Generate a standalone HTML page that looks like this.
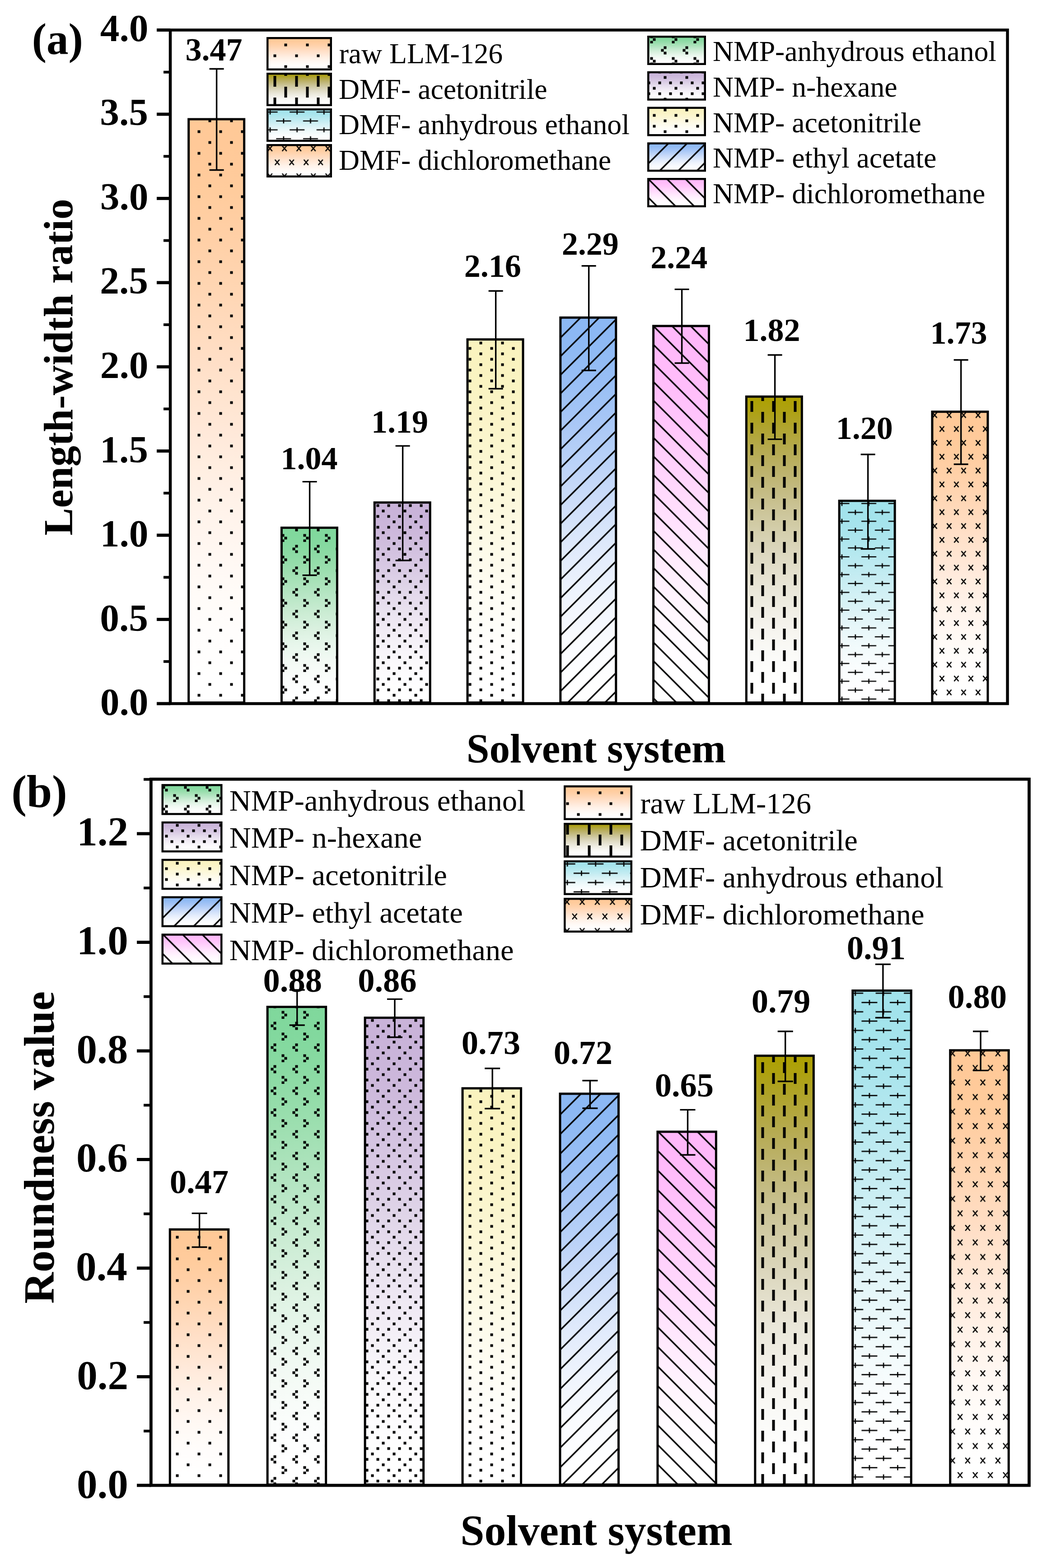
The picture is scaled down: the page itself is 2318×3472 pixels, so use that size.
<!DOCTYPE html><html><head><meta charset="utf-8"><title>Solvent system chart</title><style>html,body{margin:0;padding:0;background:#fff;}svg{display:block;}</style></head><body>
<svg width="2318" height="3472" viewBox="0 0 2318 3472">
<rect width="2318" height="3472" fill="#fff"/>
<defs><linearGradient id="g_orange" x1="0" y1="0" x2="0" y2="1"><stop offset="0.0000" stop-color="#FFC997"/><stop offset="0.0417" stop-color="#FFC998"/><stop offset="0.0833" stop-color="#FFCA9A"/><stop offset="0.1250" stop-color="#FFCC9D"/><stop offset="0.1667" stop-color="#FFCEA2"/><stop offset="0.2083" stop-color="#FFD0A7"/><stop offset="0.2500" stop-color="#FFD3AD"/><stop offset="0.2917" stop-color="#FFD6B3"/><stop offset="0.3333" stop-color="#FFD9BA"/><stop offset="0.3750" stop-color="#FFDCC0"/><stop offset="0.4167" stop-color="#FFDFC7"/><stop offset="0.4583" stop-color="#FFE3CD"/><stop offset="0.5000" stop-color="#FFE6D3"/><stop offset="0.5417" stop-color="#FFE9DA"/><stop offset="0.5833" stop-color="#FFEDDF"/><stop offset="0.6250" stop-color="#FFF0E5"/><stop offset="0.6667" stop-color="#FFF3EA"/><stop offset="0.7083" stop-color="#FFF5EE"/><stop offset="0.7500" stop-color="#FFF8F3"/><stop offset="0.7917" stop-color="#FFFAF6"/><stop offset="0.8333" stop-color="#FFFCF9"/><stop offset="0.8750" stop-color="#FFFDFC"/><stop offset="0.9167" stop-color="#FFFEFD"/><stop offset="0.9583" stop-color="#FFFFFF"/><stop offset="1.0000" stop-color="#FFFFFF"/></linearGradient><linearGradient id="g_green" x1="0" y1="0" x2="0" y2="1"><stop offset="0.0000" stop-color="#80D89C"/><stop offset="0.0417" stop-color="#81D89D"/><stop offset="0.0833" stop-color="#84D99F"/><stop offset="0.1250" stop-color="#89DAA2"/><stop offset="0.1667" stop-color="#8FDBA6"/><stop offset="0.2083" stop-color="#96DDAB"/><stop offset="0.2500" stop-color="#9DDFB0"/><stop offset="0.2917" stop-color="#A5E1B6"/><stop offset="0.3333" stop-color="#ADE3BC"/><stop offset="0.3750" stop-color="#B5E5C3"/><stop offset="0.4167" stop-color="#BDE8C9"/><stop offset="0.4583" stop-color="#C5EACF"/><stop offset="0.5000" stop-color="#CDEDD5"/><stop offset="0.5417" stop-color="#D4EFDB"/><stop offset="0.5833" stop-color="#DBF1E0"/><stop offset="0.6250" stop-color="#E1F4E6"/><stop offset="0.6667" stop-color="#E7F6EB"/><stop offset="0.7083" stop-color="#ECF8EF"/><stop offset="0.7500" stop-color="#F1F9F3"/><stop offset="0.7917" stop-color="#F5FBF6"/><stop offset="0.8333" stop-color="#F8FCF9"/><stop offset="0.8750" stop-color="#FBFDFC"/><stop offset="0.9167" stop-color="#FDFEFE"/><stop offset="0.9583" stop-color="#FFFFFF"/><stop offset="1.0000" stop-color="#FFFFFF"/></linearGradient><linearGradient id="g_purple" x1="0" y1="0" x2="0" y2="1"><stop offset="0.0000" stop-color="#C9B3D9"/><stop offset="0.0417" stop-color="#C9B3D9"/><stop offset="0.0833" stop-color="#CAB5DA"/><stop offset="0.1250" stop-color="#CCB7DB"/><stop offset="0.1667" stop-color="#CEBADC"/><stop offset="0.2083" stop-color="#D0BEDE"/><stop offset="0.2500" stop-color="#D3C2E0"/><stop offset="0.2917" stop-color="#D6C6E2"/><stop offset="0.3333" stop-color="#D9CAE4"/><stop offset="0.3750" stop-color="#DCCFE6"/><stop offset="0.4167" stop-color="#DFD4E8"/><stop offset="0.4583" stop-color="#E3D9EB"/><stop offset="0.5000" stop-color="#E6DDED"/><stop offset="0.5417" stop-color="#E9E2EF"/><stop offset="0.5833" stop-color="#EDE6F2"/><stop offset="0.6250" stop-color="#F0EAF4"/><stop offset="0.6667" stop-color="#F3EEF6"/><stop offset="0.7083" stop-color="#F5F2F8"/><stop offset="0.7500" stop-color="#F8F5FA"/><stop offset="0.7917" stop-color="#FAF8FB"/><stop offset="0.8333" stop-color="#FCFAFC"/><stop offset="0.8750" stop-color="#FDFCFE"/><stop offset="0.9167" stop-color="#FEFEFE"/><stop offset="0.9583" stop-color="#FFFFFF"/><stop offset="1.0000" stop-color="#FFFFFF"/></linearGradient><linearGradient id="g_yellow" x1="0" y1="0" x2="0" y2="1"><stop offset="0.0000" stop-color="#FAF3BF"/><stop offset="0.0417" stop-color="#FAF3BF"/><stop offset="0.0833" stop-color="#FAF3C1"/><stop offset="0.1250" stop-color="#FAF4C2"/><stop offset="0.1667" stop-color="#FAF4C5"/><stop offset="0.2083" stop-color="#FBF4C8"/><stop offset="0.2500" stop-color="#FBF5CB"/><stop offset="0.2917" stop-color="#FBF6CE"/><stop offset="0.3333" stop-color="#FBF6D2"/><stop offset="0.3750" stop-color="#FCF7D6"/><stop offset="0.4167" stop-color="#FCF8DA"/><stop offset="0.4583" stop-color="#FCF8DE"/><stop offset="0.5000" stop-color="#FDF9E2"/><stop offset="0.5417" stop-color="#FDFAE6"/><stop offset="0.5833" stop-color="#FDFBEA"/><stop offset="0.6250" stop-color="#FDFBED"/><stop offset="0.6667" stop-color="#FEFCF1"/><stop offset="0.7083" stop-color="#FEFDF4"/><stop offset="0.7500" stop-color="#FEFDF6"/><stop offset="0.7917" stop-color="#FEFEF9"/><stop offset="0.8333" stop-color="#FFFEFB"/><stop offset="0.8750" stop-color="#FFFEFD"/><stop offset="0.9167" stop-color="#FFFFFE"/><stop offset="0.9583" stop-color="#FFFFFF"/><stop offset="1.0000" stop-color="#FFFFFF"/></linearGradient><linearGradient id="g_blue" x1="0" y1="0" x2="0" y2="1"><stop offset="0.0000" stop-color="#8BB8F4"/><stop offset="0.0417" stop-color="#8CB8F4"/><stop offset="0.0833" stop-color="#8FBAF4"/><stop offset="0.1250" stop-color="#93BCF4"/><stop offset="0.1667" stop-color="#98BEF5"/><stop offset="0.2083" stop-color="#9EC2F5"/><stop offset="0.2500" stop-color="#A5C5F6"/><stop offset="0.2917" stop-color="#ACC9F6"/><stop offset="0.3333" stop-color="#B3CEF7"/><stop offset="0.3750" stop-color="#BAD2F8"/><stop offset="0.4167" stop-color="#C2D6F8"/><stop offset="0.4583" stop-color="#C9DBF9"/><stop offset="0.5000" stop-color="#D0DFFA"/><stop offset="0.5417" stop-color="#D6E4FA"/><stop offset="0.5833" stop-color="#DDE8FB"/><stop offset="0.6250" stop-color="#E3ECFC"/><stop offset="0.6667" stop-color="#E8EFFC"/><stop offset="0.7083" stop-color="#EDF3FD"/><stop offset="0.7500" stop-color="#F2F6FD"/><stop offset="0.7917" stop-color="#F5F8FE"/><stop offset="0.8333" stop-color="#F9FBFE"/><stop offset="0.8750" stop-color="#FBFCFF"/><stop offset="0.9167" stop-color="#FDFEFF"/><stop offset="0.9583" stop-color="#FFFFFF"/><stop offset="1.0000" stop-color="#FFFFFF"/></linearGradient><linearGradient id="g_pink" x1="0" y1="0" x2="0" y2="1"><stop offset="0.0000" stop-color="#FFB8FA"/><stop offset="0.0417" stop-color="#FFB8FA"/><stop offset="0.0833" stop-color="#FFBAFA"/><stop offset="0.1250" stop-color="#FFBCFA"/><stop offset="0.1667" stop-color="#FFBEFA"/><stop offset="0.2083" stop-color="#FFC2FB"/><stop offset="0.2500" stop-color="#FFC5FB"/><stop offset="0.2917" stop-color="#FFC9FB"/><stop offset="0.3333" stop-color="#FFCEFB"/><stop offset="0.3750" stop-color="#FFD2FC"/><stop offset="0.4167" stop-color="#FFD6FC"/><stop offset="0.4583" stop-color="#FFDBFC"/><stop offset="0.5000" stop-color="#FFDFFD"/><stop offset="0.5417" stop-color="#FFE4FD"/><stop offset="0.5833" stop-color="#FFE8FD"/><stop offset="0.6250" stop-color="#FFECFD"/><stop offset="0.6667" stop-color="#FFEFFE"/><stop offset="0.7083" stop-color="#FFF3FE"/><stop offset="0.7500" stop-color="#FFF6FE"/><stop offset="0.7917" stop-color="#FFF8FE"/><stop offset="0.8333" stop-color="#FFFBFF"/><stop offset="0.8750" stop-color="#FFFCFF"/><stop offset="0.9167" stop-color="#FFFEFF"/><stop offset="0.9583" stop-color="#FFFFFF"/><stop offset="1.0000" stop-color="#FFFFFF"/></linearGradient><linearGradient id="g_olive" x1="0" y1="0" x2="0" y2="1"><stop offset="0.0000" stop-color="#ADA000"/><stop offset="0.0417" stop-color="#AEA110"/><stop offset="0.0833" stop-color="#AFA326"/><stop offset="0.1250" stop-color="#B2A63A"/><stop offset="0.1667" stop-color="#B5AA4D"/><stop offset="0.2083" stop-color="#B9AE5E"/><stop offset="0.2500" stop-color="#BDB36E"/><stop offset="0.2917" stop-color="#C2B97D"/><stop offset="0.3333" stop-color="#C7BF8B"/><stop offset="0.3750" stop-color="#CCC599"/><stop offset="0.4167" stop-color="#D1CBA5"/><stop offset="0.4583" stop-color="#D6D1B1"/><stop offset="0.5000" stop-color="#DBD6BC"/><stop offset="0.5417" stop-color="#E0DCC6"/><stop offset="0.5833" stop-color="#E5E1CF"/><stop offset="0.6250" stop-color="#E9E6D8"/><stop offset="0.6667" stop-color="#EDEBDF"/><stop offset="0.7083" stop-color="#F1EFE6"/><stop offset="0.7500" stop-color="#F5F3ED"/><stop offset="0.7917" stop-color="#F8F7F2"/><stop offset="0.8333" stop-color="#FAFAF7"/><stop offset="0.8750" stop-color="#FCFCFA"/><stop offset="0.9167" stop-color="#FEFEFD"/><stop offset="0.9583" stop-color="#FFFFFE"/><stop offset="1.0000" stop-color="#FFFFFF"/></linearGradient><linearGradient id="g_cyan" x1="0" y1="0" x2="0" y2="1"><stop offset="0.0000" stop-color="#A1E3EC"/><stop offset="0.0417" stop-color="#A2E3EC"/><stop offset="0.0833" stop-color="#A4E4EC"/><stop offset="0.1250" stop-color="#A7E4ED"/><stop offset="0.1667" stop-color="#AAE5ED"/><stop offset="0.2083" stop-color="#AFE6EE"/><stop offset="0.2500" stop-color="#B4E8EF"/><stop offset="0.2917" stop-color="#BAE9F0"/><stop offset="0.3333" stop-color="#BFEBF1"/><stop offset="0.3750" stop-color="#C5ECF2"/><stop offset="0.4167" stop-color="#CBEEF3"/><stop offset="0.4583" stop-color="#D1F0F5"/><stop offset="0.5000" stop-color="#D7F2F6"/><stop offset="0.5417" stop-color="#DCF3F7"/><stop offset="0.5833" stop-color="#E2F5F8"/><stop offset="0.6250" stop-color="#E7F7F9"/><stop offset="0.6667" stop-color="#EBF8FA"/><stop offset="0.7083" stop-color="#F0FAFB"/><stop offset="0.7500" stop-color="#F3FBFC"/><stop offset="0.7917" stop-color="#F7FCFD"/><stop offset="0.8333" stop-color="#FAFDFE"/><stop offset="0.8750" stop-color="#FCFEFE"/><stop offset="0.9167" stop-color="#FEFEFF"/><stop offset="0.9583" stop-color="#FFFFFF"/><stop offset="1.0000" stop-color="#FFFFFF"/></linearGradient><pattern id="p_dots" patternUnits="userSpaceOnUse" x="0" y="0" width="48" height="48"><rect x="5.5" y="0.5" width="6" height="6"/><rect x="29.5" y="24.5" width="6" height="6"/></pattern><pattern id="p_ydots" patternUnits="userSpaceOnUse" x="0" y="0" width="48" height="24"><rect x="29.5" y="0.5" width="6" height="6"/><rect x="5.5" y="12.5" width="6" height="6"/></pattern><pattern id="p_dense" patternUnits="userSpaceOnUse" x="0" y="0" width="48" height="48"><rect x="5.5" y="0.5" width="6" height="6"/><rect x="17.5" y="12.5" width="6" height="6"/><rect x="41.5" y="12.5" width="6" height="6"/><rect x="29.5" y="24.5" width="6" height="6"/><rect x="17.5" y="36.5" width="6" height="6"/><rect x="41.5" y="36.5" width="6" height="6"/></pattern><pattern id="p_dash" patternUnits="userSpaceOnUse" x="0" y="0" width="48" height="48"><rect x="5.5" y="0" width="6" height="24"/><rect x="29.5" y="24" width="6" height="24"/></pattern><pattern id="p_chev" patternUnits="userSpaceOnUse" x="0" y="0" width="48" height="48"><rect x="47.5" y="30.5" width="6" height="6"/><rect x="-0.5" y="30.5" width="6" height="6"/><rect x="5.5" y="36.5" width="6" height="6"/><rect x="47.5" y="42.5" width="6" height="6"/><rect x="-0.5" y="42.5" width="6" height="6"/><rect x="29.5" y="6.5" width="6" height="6"/><rect x="23.5" y="12.5" width="6" height="6"/><rect x="29.5" y="18.5" width="6" height="6"/></pattern><pattern id="p_fwd" patternUnits="userSpaceOnUse" x="11" y="0" width="41.2" height="41.2"><path d="M-5,5 L5,-5 M-5,46.2 L46.2,-5 M36.2,46.2 L46.2,36.2" stroke="#000" stroke-width="3.4"/></pattern><pattern id="p_bwd" patternUnits="userSpaceOnUse" x="0" y="18" width="41.2" height="41.2"><path d="M-5,36.2 L5,46.2 M-5,-5 L46.2,46.2 M36.2,-5 L46.2,5" stroke="#000" stroke-width="3.4"/></pattern><pattern id="p_plus" patternUnits="userSpaceOnUse" x="0" y="0" width="59.6" height="39.36"><path d="M-60.10,-26.46h33M-43.60,-31.96v11M-60.10,12.90h33M-43.60,7.40v11M-60.10,52.26h33M-43.60,46.76v11M-0.50,-26.46h33M16.00,-31.96v11M-0.50,12.90h33M16.00,7.40v11M-0.50,52.26h33M16.00,46.76v11M59.10,-26.46h33M75.60,-31.96v11M59.10,12.90h33M75.60,7.40v11M59.10,52.26h33M75.60,46.76v11M-30.30,-6.78h33M-13.80,-12.28v11M-30.30,32.58h33M-13.80,27.08v11M-30.30,71.94h33M-13.80,66.44v11M29.30,-6.78h33M45.80,-12.28v11M29.30,32.58h33M45.80,27.08v11M29.30,71.94h33M45.80,66.44v11M88.90,-6.78h33M105.40,-12.28v11M88.90,32.58h33M105.40,27.08v11M88.90,71.94h33M105.40,66.44v11" stroke="#000" stroke-width="2.6" fill="none"/></pattern><pattern id="p_xmark" patternUnits="userSpaceOnUse" x="0" y="0" width="32" height="61.4"><path d="M-31.60,-38.60L-21.60,-26.60M-21.60,-38.60L-31.60,-26.60M-31.60,22.80L-21.60,34.80M-21.60,22.80L-31.60,34.80M-31.60,84.20L-21.60,96.20M-21.60,84.20L-31.60,96.20M0.40,-38.60L10.40,-26.60M10.40,-38.60L0.40,-26.60M0.40,22.80L10.40,34.80M10.40,22.80L0.40,34.80M0.40,84.20L10.40,96.20M10.40,84.20L0.40,96.20M32.40,-38.60L42.40,-26.60M42.40,-38.60L32.40,-26.60M32.40,22.80L42.40,34.80M42.40,22.80L32.40,34.80M32.40,84.20L42.40,96.20M42.40,84.20L32.40,96.20M-15.60,-7.90L-5.60,4.10M-5.60,-7.90L-15.60,4.10M-15.60,53.50L-5.60,65.50M-5.60,53.50L-15.60,65.50M-15.60,114.90L-5.60,126.90M-5.60,114.90L-15.60,126.90M16.40,-7.90L26.40,4.10M26.40,-7.90L16.40,4.10M16.40,53.50L26.40,65.50M26.40,53.50L16.40,65.50M16.40,114.90L26.40,126.90M26.40,114.90L16.40,126.90M48.40,-7.90L58.40,4.10M58.40,-7.90L48.40,4.10M48.40,53.50L58.40,65.50M58.40,53.50L48.40,65.50M48.40,114.90L58.40,126.90M58.40,114.90L48.40,126.90" stroke="#000" stroke-width="2.5" fill="none"/></pattern></defs>
<rect x="417.65" y="263.96" width="123.00" height="1291.74" fill="url(#g_orange)"/><rect x="417.65" y="263.96" width="123.00" height="1291.74" fill="url(#p_dots)"/><rect x="417.65" y="263.96" width="123.00" height="1291.74" fill="none" stroke="#000" stroke-width="5.0"/><rect x="623.43" y="1168.55" width="123.00" height="387.15" fill="url(#g_green)"/><rect x="623.43" y="1168.55" width="123.00" height="387.15" fill="url(#p_chev)"/><rect x="623.43" y="1168.55" width="123.00" height="387.15" fill="none" stroke="#000" stroke-width="5.0"/><rect x="829.21" y="1112.71" width="123.00" height="442.99" fill="url(#g_purple)"/><rect x="829.21" y="1112.71" width="123.00" height="442.99" fill="url(#p_dense)"/><rect x="829.21" y="1112.71" width="123.00" height="442.99" fill="none" stroke="#000" stroke-width="5.0"/><rect x="1034.99" y="751.62" width="123.00" height="804.08" fill="url(#g_yellow)"/><rect x="1034.99" y="751.62" width="123.00" height="804.08" fill="url(#p_ydots)"/><rect x="1034.99" y="751.62" width="123.00" height="804.08" fill="none" stroke="#000" stroke-width="5.0"/><rect x="1240.77" y="703.22" width="123.00" height="852.48" fill="url(#g_blue)"/><rect x="1240.77" y="703.22" width="123.00" height="852.48" fill="url(#o5)"/><rect x="1240.77" y="703.22" width="123.00" height="852.48" fill="none" stroke="#000" stroke-width="5.0"/><rect x="1446.55" y="721.84" width="123.00" height="833.86" fill="url(#g_pink)"/><rect x="1446.55" y="721.84" width="123.00" height="833.86" fill="url(#o6)"/><rect x="1446.55" y="721.84" width="123.00" height="833.86" fill="none" stroke="#000" stroke-width="5.0"/><rect x="1652.33" y="878.19" width="123.00" height="677.51" fill="url(#g_olive)"/><rect x="1652.33" y="878.19" width="123.00" height="677.51" fill="url(#p_dash)"/><rect x="1652.33" y="878.19" width="123.00" height="677.51" fill="none" stroke="#000" stroke-width="5.0"/><rect x="1858.11" y="1108.99" width="123.00" height="446.71" fill="url(#g_cyan)"/><rect x="1858.11" y="1108.99" width="123.00" height="446.71" fill="url(#o8)"/><rect x="1858.11" y="1108.99" width="123.00" height="446.71" fill="none" stroke="#000" stroke-width="5.0"/><rect x="2063.89" y="911.69" width="123.00" height="644.01" fill="url(#g_orange)"/><rect x="2063.89" y="911.69" width="123.00" height="644.01" fill="url(#o9)"/><rect x="2063.89" y="911.69" width="123.00" height="644.01" fill="none" stroke="#000" stroke-width="5.0"/><rect x="377" y="66.5" width="1853.5" height="1491.5" fill="none" stroke="#000" stroke-width="6.5"/><line x1="347" y1="1558.00" x2="377" y2="1558.00" stroke="#000" stroke-width="7"/><line x1="362" y1="1464.78" x2="377" y2="1464.78" stroke="#000" stroke-width="6"/><line x1="347" y1="1371.56" x2="377" y2="1371.56" stroke="#000" stroke-width="7"/><line x1="362" y1="1278.34" x2="377" y2="1278.34" stroke="#000" stroke-width="6"/><line x1="347" y1="1185.12" x2="377" y2="1185.12" stroke="#000" stroke-width="7"/><line x1="362" y1="1091.91" x2="377" y2="1091.91" stroke="#000" stroke-width="6"/><line x1="347" y1="998.69" x2="377" y2="998.69" stroke="#000" stroke-width="7"/><line x1="362" y1="905.47" x2="377" y2="905.47" stroke="#000" stroke-width="6"/><line x1="347" y1="812.25" x2="377" y2="812.25" stroke="#000" stroke-width="7"/><line x1="362" y1="719.03" x2="377" y2="719.03" stroke="#000" stroke-width="6"/><line x1="347" y1="625.81" x2="377" y2="625.81" stroke="#000" stroke-width="7"/><line x1="362" y1="532.59" x2="377" y2="532.59" stroke="#000" stroke-width="6"/><line x1="347" y1="439.38" x2="377" y2="439.38" stroke="#000" stroke-width="7"/><line x1="362" y1="346.16" x2="377" y2="346.16" stroke="#000" stroke-width="6"/><line x1="347" y1="252.94" x2="377" y2="252.94" stroke="#000" stroke-width="7"/><line x1="362" y1="159.72" x2="377" y2="159.72" stroke="#000" stroke-width="6"/><line x1="347" y1="66.50" x2="377" y2="66.50" stroke="#000" stroke-width="7"/><path d="M479.60,152.5V376.5M463.60,152.5H495.60M463.60,376.5H495.60" stroke="#000" stroke-width="3.4" fill="none"/><path d="M685.60,1066.6V1273.8M669.60,1066.6H701.60M669.60,1273.8H701.60" stroke="#000" stroke-width="3.4" fill="none"/><path d="M891.60,987.4V1241M875.60,987.4H907.60M875.60,1241H907.60" stroke="#000" stroke-width="3.4" fill="none"/><path d="M1097.60,644.3V860.7M1081.60,644.3H1113.60M1081.60,860.7H1113.60" stroke="#000" stroke-width="3.4" fill="none"/><path d="M1303.60,588.8V820.3M1287.60,588.8H1319.60M1287.60,820.3H1319.60" stroke="#000" stroke-width="3.4" fill="none"/><path d="M1509.60,640.6V804M1493.60,640.6H1525.60M1493.60,804H1525.60" stroke="#000" stroke-width="3.4" fill="none"/><path d="M1715.60,786V972.6M1699.60,786H1731.60M1699.60,972.6H1731.60" stroke="#000" stroke-width="3.4" fill="none"/><path d="M1921.60,1006.2V1215.5M1905.60,1006.2H1937.60M1905.60,1215.5H1937.60" stroke="#000" stroke-width="3.4" fill="none"/><path d="M2127.60,797V1028M2111.60,797H2143.60M2111.60,1028H2143.60" stroke="#000" stroke-width="3.4" fill="none"/><text x="221.79" y="1583.32" style="font-family:&quot;Liberation Serif&quot;, serif;font-size:85.3px;font-weight:bold">0.0</text><text x="221.36" y="1396.72" style="font-family:&quot;Liberation Serif&quot;, serif;font-size:85.3px;font-weight:bold">0.5</text><text x="221.79" y="1210.12" style="font-family:&quot;Liberation Serif&quot;, serif;font-size:85.3px;font-weight:bold">1.0</text><text x="221.36" y="1023.52" style="font-family:&quot;Liberation Serif&quot;, serif;font-size:85.3px;font-weight:bold">1.5</text><text x="221.79" y="836.92" style="font-family:&quot;Liberation Serif&quot;, serif;font-size:85.3px;font-weight:bold">2.0</text><text x="221.36" y="650.32" style="font-family:&quot;Liberation Serif&quot;, serif;font-size:85.3px;font-weight:bold">2.5</text><text x="221.79" y="463.72" style="font-family:&quot;Liberation Serif&quot;, serif;font-size:85.3px;font-weight:bold">3.0</text><text x="221.36" y="277.12" style="font-family:&quot;Liberation Serif&quot;, serif;font-size:85.3px;font-weight:bold">3.5</text><text x="221.79" y="90.52" style="font-family:&quot;Liberation Serif&quot;, serif;font-size:85.3px;font-weight:bold">4.0</text><text x="410.46" y="134.22" style="font-family:&quot;Liberation Serif&quot;, serif;font-size:72px;font-weight:bold">3.47</text><text x="621.44" y="1038.92" style="font-family:&quot;Liberation Serif&quot;, serif;font-size:72px;font-weight:bold">1.04</text><text x="821.88" y="957.72" style="font-family:&quot;Liberation Serif&quot;, serif;font-size:72px;font-weight:bold">1.19</text><text x="1027.79" y="612.92" style="font-family:&quot;Liberation Serif&quot;, serif;font-size:72px;font-weight:bold">2.16</text><text x="1243.87" y="563.62" style="font-family:&quot;Liberation Serif&quot;, serif;font-size:72px;font-weight:bold">2.29</text><text x="1440.13" y="594.32" style="font-family:&quot;Liberation Serif&quot;, serif;font-size:72px;font-weight:bold">2.24</text><text x="1645.44" y="754.82" style="font-family:&quot;Liberation Serif&quot;, serif;font-size:72px;font-weight:bold">1.82</text><text x="1850.66" y="971.52" style="font-family:&quot;Liberation Serif&quot;, serif;font-size:72px;font-weight:bold">1.20</text><text x="2059.53" y="760.82" style="font-family:&quot;Liberation Serif&quot;, serif;font-size:72px;font-weight:bold">1.73</text>
<rect x="592.25" y="84.25" width="140.50" height="69.50" fill="url(#g_orange)"/><rect x="592.25" y="84.25" width="140.50" height="69.50" fill="url(#p_dots)"/><rect x="592.25" y="84.25" width="140.50" height="69.50" fill="none" stroke="#000" stroke-width="4.5"/><text x="750.63" y="140.30" style="font-family:&quot;Liberation Serif&quot;, serif;font-size:63.7px;font-weight:normal">raw LLM-126</text><rect x="592.25" y="163.25" width="140.50" height="69.50" fill="url(#g_olive)"/><rect x="592.25" y="163.25" width="140.50" height="69.50" fill="url(#p_dash)"/><rect x="592.25" y="163.25" width="140.50" height="69.50" fill="none" stroke="#000" stroke-width="4.5"/><text x="749.99" y="218.70" style="font-family:&quot;Liberation Serif&quot;, serif;font-size:63.7px;font-weight:normal">DMF- acetonitrile</text><rect x="592.25" y="242.25" width="140.50" height="69.50" fill="url(#g_cyan)"/><rect x="592.25" y="242.25" width="140.50" height="69.50" fill="url(#o12)"/><rect x="592.25" y="242.25" width="140.50" height="69.50" fill="none" stroke="#000" stroke-width="4.5"/><text x="749.99" y="297.10" style="font-family:&quot;Liberation Serif&quot;, serif;font-size:63.7px;font-weight:normal">DMF- anhydrous ethanol</text><rect x="592.25" y="321.25" width="140.50" height="69.50" fill="url(#g_orange)"/><rect x="592.25" y="321.25" width="140.50" height="69.50" fill="url(#o13)"/><rect x="592.25" y="321.25" width="140.50" height="69.50" fill="none" stroke="#000" stroke-width="4.5"/><text x="749.99" y="375.50" style="font-family:&quot;Liberation Serif&quot;, serif;font-size:63.7px;font-weight:normal">DMF- dichloromethane</text>
<rect x="1435.25" y="81.25" width="125.50" height="60.50" fill="url(#g_green)"/><rect x="1435.25" y="81.25" width="125.50" height="60.50" fill="url(#p_chev)"/><rect x="1435.25" y="81.25" width="125.50" height="60.50" fill="none" stroke="#000" stroke-width="4.5"/><text x="1578.09" y="135.00" style="font-family:&quot;Liberation Serif&quot;, serif;font-size:63.7px;font-weight:normal">NMP-anhydrous ethanol</text><rect x="1435.25" y="160.00" width="125.50" height="60.50" fill="url(#g_purple)"/><rect x="1435.25" y="160.00" width="125.50" height="60.50" fill="url(#p_dense)"/><rect x="1435.25" y="160.00" width="125.50" height="60.50" fill="none" stroke="#000" stroke-width="4.5"/><text x="1578.09" y="213.75" style="font-family:&quot;Liberation Serif&quot;, serif;font-size:63.7px;font-weight:normal">NMP- n-hexane</text><rect x="1435.25" y="238.75" width="125.50" height="60.50" fill="url(#g_yellow)"/><rect x="1435.25" y="238.75" width="125.50" height="60.50" fill="url(#p_ydots)"/><rect x="1435.25" y="238.75" width="125.50" height="60.50" fill="none" stroke="#000" stroke-width="4.5"/><text x="1578.09" y="292.50" style="font-family:&quot;Liberation Serif&quot;, serif;font-size:63.7px;font-weight:normal">NMP- acetonitrile</text><rect x="1435.25" y="317.50" width="125.50" height="60.50" fill="url(#g_blue)"/><rect x="1435.25" y="317.50" width="125.50" height="60.50" fill="url(#o17)"/><rect x="1435.25" y="317.50" width="125.50" height="60.50" fill="none" stroke="#000" stroke-width="4.5"/><text x="1578.09" y="371.25" style="font-family:&quot;Liberation Serif&quot;, serif;font-size:63.7px;font-weight:normal">NMP- ethyl acetate</text><rect x="1435.25" y="396.25" width="125.50" height="60.50" fill="url(#g_pink)"/><rect x="1435.25" y="396.25" width="125.50" height="60.50" fill="url(#o18)"/><rect x="1435.25" y="396.25" width="125.50" height="60.50" fill="none" stroke="#000" stroke-width="4.5"/><text x="1578.09" y="450.00" style="font-family:&quot;Liberation Serif&quot;, serif;font-size:63.7px;font-weight:normal">NMP- dichloromethane</text>
<rect x="376.23" y="2722.36" width="129.50" height="564.94" fill="url(#g_orange)"/><rect x="376.23" y="2722.36" width="129.50" height="564.94" fill="url(#p_dots)"/><rect x="376.23" y="2722.36" width="129.50" height="564.94" fill="none" stroke="#000" stroke-width="5.0"/><rect x="592.16" y="2229.54" width="129.50" height="1057.76" fill="url(#g_green)"/><rect x="592.16" y="2229.54" width="129.50" height="1057.76" fill="url(#p_chev)"/><rect x="592.16" y="2229.54" width="129.50" height="1057.76" fill="none" stroke="#000" stroke-width="5.0"/><rect x="808.09" y="2253.58" width="129.50" height="1033.72" fill="url(#g_purple)"/><rect x="808.09" y="2253.58" width="129.50" height="1033.72" fill="url(#p_dense)"/><rect x="808.09" y="2253.58" width="129.50" height="1033.72" fill="none" stroke="#000" stroke-width="5.0"/><rect x="1024.02" y="2409.84" width="129.50" height="877.46" fill="url(#g_yellow)"/><rect x="1024.02" y="2409.84" width="129.50" height="877.46" fill="url(#p_ydots)"/><rect x="1024.02" y="2409.84" width="129.50" height="877.46" fill="none" stroke="#000" stroke-width="5.0"/><rect x="1239.95" y="2421.86" width="129.50" height="865.44" fill="url(#g_blue)"/><rect x="1239.95" y="2421.86" width="129.50" height="865.44" fill="url(#o23)"/><rect x="1239.95" y="2421.86" width="129.50" height="865.44" fill="none" stroke="#000" stroke-width="5.0"/><rect x="1455.88" y="2506.00" width="129.50" height="781.30" fill="url(#g_pink)"/><rect x="1455.88" y="2506.00" width="129.50" height="781.30" fill="url(#o24)"/><rect x="1455.88" y="2506.00" width="129.50" height="781.30" fill="none" stroke="#000" stroke-width="5.0"/><rect x="1671.81" y="2337.72" width="129.50" height="949.58" fill="url(#g_olive)"/><rect x="1671.81" y="2337.72" width="129.50" height="949.58" fill="url(#p_dash)"/><rect x="1671.81" y="2337.72" width="129.50" height="949.58" fill="none" stroke="#000" stroke-width="5.0"/><rect x="1887.74" y="2193.48" width="129.50" height="1093.82" fill="url(#g_cyan)"/><rect x="1887.74" y="2193.48" width="129.50" height="1093.82" fill="url(#o26)"/><rect x="1887.74" y="2193.48" width="129.50" height="1093.82" fill="none" stroke="#000" stroke-width="5.0"/><rect x="2103.67" y="2325.70" width="129.50" height="961.60" fill="url(#g_orange)"/><rect x="2103.67" y="2325.70" width="129.50" height="961.60" fill="url(#o27)"/><rect x="2103.67" y="2325.70" width="129.50" height="961.60" fill="none" stroke="#000" stroke-width="5.0"/><rect x="334.3" y="1725.3" width="1944.1000000000001" height="1563.7" fill="none" stroke="#000" stroke-width="6.8"/><line x1="303" y1="3289.00" x2="334.3" y2="3289.00" stroke="#000" stroke-width="7"/><line x1="318" y1="3168.75" x2="334.3" y2="3168.75" stroke="#000" stroke-width="6"/><line x1="303" y1="3048.50" x2="334.3" y2="3048.50" stroke="#000" stroke-width="7"/><line x1="318" y1="2928.25" x2="334.3" y2="2928.25" stroke="#000" stroke-width="6"/><line x1="303" y1="2808.00" x2="334.3" y2="2808.00" stroke="#000" stroke-width="7"/><line x1="318" y1="2687.75" x2="334.3" y2="2687.75" stroke="#000" stroke-width="6"/><line x1="303" y1="2567.50" x2="334.3" y2="2567.50" stroke="#000" stroke-width="7"/><line x1="318" y1="2447.25" x2="334.3" y2="2447.25" stroke="#000" stroke-width="6"/><line x1="303" y1="2327.00" x2="334.3" y2="2327.00" stroke="#000" stroke-width="7"/><line x1="318" y1="2206.75" x2="334.3" y2="2206.75" stroke="#000" stroke-width="6"/><line x1="303" y1="2086.50" x2="334.3" y2="2086.50" stroke="#000" stroke-width="7"/><line x1="318" y1="1966.25" x2="334.3" y2="1966.25" stroke="#000" stroke-width="6"/><line x1="303" y1="1846.00" x2="334.3" y2="1846.00" stroke="#000" stroke-width="7"/><line x1="318" y1="1725.75" x2="334.3" y2="1725.75" stroke="#000" stroke-width="6"/><path d="M441.60,2686.6V2761.5M424.60,2686.6H458.60M424.60,2761.5H458.60" stroke="#000" stroke-width="3.4" fill="none"/><path d="M657.78,2192V2270M640.78,2192H674.78M640.78,2270H674.78" stroke="#000" stroke-width="3.4" fill="none"/><path d="M873.96,2212.4V2296.7M856.96,2212.4H890.96M856.96,2296.7H890.96" stroke="#000" stroke-width="3.4" fill="none"/><path d="M1090.14,2365.8V2454.8M1073.14,2365.8H1107.14M1073.14,2454.8H1107.14" stroke="#000" stroke-width="3.4" fill="none"/><path d="M1306.32,2392.7V2454M1289.32,2392.7H1323.32M1289.32,2454H1323.32" stroke="#000" stroke-width="3.4" fill="none"/><path d="M1522.50,2457.4V2557.2M1505.50,2457.4H1539.50M1505.50,2557.2H1539.50" stroke="#000" stroke-width="3.4" fill="none"/><path d="M1738.68,2283.8V2394.5M1721.68,2283.8H1755.68M1721.68,2394.5H1755.68" stroke="#000" stroke-width="3.4" fill="none"/><path d="M1954.86,2135.3V2253.5M1937.86,2135.3H1971.86M1937.86,2253.5H1971.86" stroke="#000" stroke-width="3.4" fill="none"/><path d="M2171.04,2283.8V2370.4M2154.04,2283.8H2188.04M2154.04,2370.4H2188.04" stroke="#000" stroke-width="3.4" fill="none"/><text x="169.89" y="3316.64" style="font-family:&quot;Liberation Serif&quot;, serif;font-size:91px;font-weight:bold">0.0</text><text x="170.35" y="3075.90" style="font-family:&quot;Liberation Serif&quot;, serif;font-size:91px;font-weight:bold">0.2</text><text x="168.07" y="2835.16" style="font-family:&quot;Liberation Serif&quot;, serif;font-size:91px;font-weight:bold">0.4</text><text x="168.98" y="2594.41" style="font-family:&quot;Liberation Serif&quot;, serif;font-size:91px;font-weight:bold">0.6</text><text x="169.44" y="2353.68" style="font-family:&quot;Liberation Serif&quot;, serif;font-size:91px;font-weight:bold">0.8</text><text x="169.89" y="2112.94" style="font-family:&quot;Liberation Serif&quot;, serif;font-size:91px;font-weight:bold">1.0</text><text x="170.34" y="1872.19" style="font-family:&quot;Liberation Serif&quot;, serif;font-size:91px;font-weight:bold">1.2</text><text x="375.65" y="2641.68" style="font-family:&quot;Liberation Serif&quot;, serif;font-size:74.5px;font-weight:bold">0.47</text><text x="582.53" y="2195.58" style="font-family:&quot;Liberation Serif&quot;, serif;font-size:74.5px;font-weight:bold">0.88</text><text x="792.24" y="2195.58" style="font-family:&quot;Liberation Serif&quot;, serif;font-size:74.5px;font-weight:bold">0.86</text><text x="1021.63" y="2334.28" style="font-family:&quot;Liberation Serif&quot;, serif;font-size:74.5px;font-weight:bold">0.73</text><text x="1225.65" y="2355.98" style="font-family:&quot;Liberation Serif&quot;, serif;font-size:74.5px;font-weight:bold">0.72</text><text x="1449.63" y="2428.38" style="font-family:&quot;Liberation Serif&quot;, serif;font-size:74.5px;font-weight:bold">0.65</text><text x="1663.78" y="2241.88" style="font-family:&quot;Liberation Serif&quot;, serif;font-size:74.5px;font-weight:bold">0.79</text><text x="1874.74" y="2123.88" style="font-family:&quot;Liberation Serif&quot;, serif;font-size:74.5px;font-weight:bold">0.91</text><text x="2098.61" y="2231.68" style="font-family:&quot;Liberation Serif&quot;, serif;font-size:74.5px;font-weight:bold">0.80</text>
<rect x="359.75" y="1738.35" width="130.50" height="64.10" fill="url(#g_green)"/><rect x="359.75" y="1738.35" width="130.50" height="64.10" fill="url(#p_chev)"/><rect x="359.75" y="1738.35" width="130.50" height="64.10" fill="none" stroke="#000" stroke-width="4.5"/><text x="507.70" y="1794.60" style="font-family:&quot;Liberation Serif&quot;, serif;font-size:66.5px;font-weight:normal">NMP-anhydrous ethanol</text><rect x="359.75" y="1821.15" width="130.50" height="64.10" fill="url(#g_purple)"/><rect x="359.75" y="1821.15" width="130.50" height="64.10" fill="url(#p_dense)"/><rect x="359.75" y="1821.15" width="130.50" height="64.10" fill="none" stroke="#000" stroke-width="4.5"/><text x="507.70" y="1877.40" style="font-family:&quot;Liberation Serif&quot;, serif;font-size:66.5px;font-weight:normal">NMP- n-hexane</text><rect x="359.75" y="1903.95" width="130.50" height="64.10" fill="url(#g_yellow)"/><rect x="359.75" y="1903.95" width="130.50" height="64.10" fill="url(#p_ydots)"/><rect x="359.75" y="1903.95" width="130.50" height="64.10" fill="none" stroke="#000" stroke-width="4.5"/><text x="507.70" y="1960.20" style="font-family:&quot;Liberation Serif&quot;, serif;font-size:66.5px;font-weight:normal">NMP- acetonitrile</text><rect x="359.75" y="1986.75" width="130.50" height="64.10" fill="url(#g_blue)"/><rect x="359.75" y="1986.75" width="130.50" height="64.10" fill="url(#o31)"/><rect x="359.75" y="1986.75" width="130.50" height="64.10" fill="none" stroke="#000" stroke-width="4.5"/><text x="507.70" y="2043.00" style="font-family:&quot;Liberation Serif&quot;, serif;font-size:66.5px;font-weight:normal">NMP- ethyl acetate</text><rect x="359.75" y="2069.55" width="130.50" height="64.10" fill="url(#g_pink)"/><rect x="359.75" y="2069.55" width="130.50" height="64.10" fill="url(#o32)"/><rect x="359.75" y="2069.55" width="130.50" height="64.10" fill="none" stroke="#000" stroke-width="4.5"/><text x="507.70" y="2125.80" style="font-family:&quot;Liberation Serif&quot;, serif;font-size:66.5px;font-weight:normal">NMP- dichloromethane</text>
<rect x="1250.25" y="1741.25" width="147.50" height="72.50" fill="url(#g_orange)"/><rect x="1250.25" y="1741.25" width="147.50" height="72.50" fill="url(#p_dots)"/><rect x="1250.25" y="1741.25" width="147.50" height="72.50" fill="none" stroke="#000" stroke-width="4.5"/><text x="1417.42" y="1800.80" style="font-family:&quot;Liberation Serif&quot;, serif;font-size:66.5px;font-weight:normal">raw LLM-126</text><rect x="1250.25" y="1824.25" width="147.50" height="72.50" fill="url(#g_olive)"/><rect x="1250.25" y="1824.25" width="147.50" height="72.50" fill="url(#p_dash)"/><rect x="1250.25" y="1824.25" width="147.50" height="72.50" fill="none" stroke="#000" stroke-width="4.5"/><text x="1416.76" y="1883.00" style="font-family:&quot;Liberation Serif&quot;, serif;font-size:66.5px;font-weight:normal">DMF- acetonitrile</text><rect x="1250.25" y="1907.25" width="147.50" height="72.50" fill="url(#g_cyan)"/><rect x="1250.25" y="1907.25" width="147.50" height="72.50" fill="url(#o35)"/><rect x="1250.25" y="1907.25" width="147.50" height="72.50" fill="none" stroke="#000" stroke-width="4.5"/><text x="1416.76" y="1965.20" style="font-family:&quot;Liberation Serif&quot;, serif;font-size:66.5px;font-weight:normal">DMF- anhydrous ethanol</text><rect x="1250.25" y="1990.25" width="147.50" height="72.50" fill="url(#g_orange)"/><rect x="1250.25" y="1990.25" width="147.50" height="72.50" fill="url(#o36)"/><rect x="1250.25" y="1990.25" width="147.50" height="72.50" fill="none" stroke="#000" stroke-width="4.5"/><text x="1416.76" y="2047.40" style="font-family:&quot;Liberation Serif&quot;, serif;font-size:66.5px;font-weight:normal">DMF- dichloromethane</text>
<text x="1032.87" y="1687.80" style="font-family:&quot;Liberation Serif&quot;, serif;font-size:91.05px;font-weight:bold">Solvent system</text>
<text x="1019.31" y="3420.80" style="font-family:&quot;Liberation Serif&quot;, serif;font-size:95.5px;font-weight:bold">Solvent system</text>
<text x="70.64" y="119.14" style="font-family:&quot;Liberation Serif&quot;, serif;font-size:97px;font-weight:bold">(a)</text>
<text x="25.26" y="1787.29" style="font-family:&quot;Liberation Serif&quot;, serif;font-size:101px;font-weight:bold">(b)</text>
<text transform="translate(159.50,812.90) rotate(-90)" x="0" y="0" text-anchor="middle" style="font-family:&quot;Liberation Serif&quot;, serif;font-size:91.6px;font-weight:bold">Length-width ratio</text>
<text transform="translate(118.80,2540.85) rotate(-90)" x="0" y="0" text-anchor="middle" style="font-family:&quot;Liberation Serif&quot;, serif;font-size:96.1px;font-weight:bold">Roundness value</text>
<defs><pattern id="o5" patternUnits="userSpaceOnUse" x="1244.27" y="703.22" width="41.2" height="41.2"><path d="M-5,5 L5,-5 M-5,46.2 L46.2,-5 M36.2,46.2 L46.2,36.2" stroke="#000" stroke-width="3.4"/></pattern><pattern id="o6" patternUnits="userSpaceOnUse" x="1446.55" y="721.84" width="41.2" height="41.2"><path d="M-5,36.2 L5,46.2 M-5,-5 L46.2,46.2 M36.2,-5 L46.2,5" stroke="#000" stroke-width="3.4"/></pattern><pattern id="o8" patternUnits="userSpaceOnUse" x="1858.11" y="1108.99" width="59.6" height="39.36"><path d="M-70.25,-33.46h33.0M-53.75,-38.96v11.0M-70.25,5.90h33.0M-53.75,0.40v11.0M-70.25,45.26h33.0M-53.75,39.76v11.0M-10.65,-33.46h33.0M5.85,-38.96v11.0M-10.65,5.90h33.0M5.85,0.40v11.0M-10.65,45.26h33.0M5.85,39.76v11.0M48.95,-33.46h33.0M65.45,-38.96v11.0M48.95,5.90h33.0M65.45,0.40v11.0M48.95,45.26h33.0M65.45,39.76v11.0M-40.45,-13.78h33.0M-23.95,-19.28v11.0M-40.45,25.58h33.0M-23.95,20.08v11.0M-40.45,64.94h33.0M-23.95,59.44v11.0M19.15,-13.78h33.0M35.65,-19.28v11.0M19.15,25.58h33.0M35.65,20.08v11.0M19.15,64.94h33.0M35.65,59.44v11.0M78.75,-13.78h33.0M95.25,-19.28v11.0M78.75,25.58h33.0M95.25,20.08v11.0M78.75,64.94h33.0M95.25,59.44v11.0" stroke="#000" stroke-width="2.6" fill="none"/></pattern><pattern id="o9" patternUnits="userSpaceOnUse" x="2063.89" y="911.69" width="32.0" height="61.4"><path d="M-31.50,-59.90L-21.50,-47.90M-21.50,-59.90L-31.50,-47.90M-31.50,1.50L-21.50,13.50M-21.50,1.50L-31.50,13.50M-31.50,62.90L-21.50,74.90M-21.50,62.90L-31.50,74.90M0.50,-59.90L10.50,-47.90M10.50,-59.90L0.50,-47.90M0.50,1.50L10.50,13.50M10.50,1.50L0.50,13.50M0.50,62.90L10.50,74.90M10.50,62.90L0.50,74.90M32.50,-59.90L42.50,-47.90M42.50,-59.90L32.50,-47.90M32.50,1.50L42.50,13.50M42.50,1.50L32.50,13.50M32.50,62.90L42.50,74.90M42.50,62.90L32.50,74.90M-15.50,-29.20L-5.50,-17.20M-5.50,-29.20L-15.50,-17.20M-15.50,32.20L-5.50,44.20M-5.50,32.20L-15.50,44.20M-15.50,93.60L-5.50,105.60M-5.50,93.60L-15.50,105.60M16.50,-29.20L26.50,-17.20M26.50,-29.20L16.50,-17.20M16.50,32.20L26.50,44.20M26.50,32.20L16.50,44.20M16.50,93.60L26.50,105.60M26.50,93.60L16.50,105.60M48.50,-29.20L58.50,-17.20M58.50,-29.20L48.50,-17.20M48.50,32.20L58.50,44.20M58.50,32.20L48.50,44.20M48.50,93.60L58.50,105.60M58.50,93.60L48.50,105.60" stroke="#000" stroke-width="2.5" fill="none"/></pattern><pattern id="o12" patternUnits="userSpaceOnUse" x="592.25" y="242.25" width="59.6" height="39.36"><path d="M-70.25,-33.46h33.0M-53.75,-38.96v11.0M-70.25,5.90h33.0M-53.75,0.40v11.0M-70.25,45.26h33.0M-53.75,39.76v11.0M-10.65,-33.46h33.0M5.85,-38.96v11.0M-10.65,5.90h33.0M5.85,0.40v11.0M-10.65,45.26h33.0M5.85,39.76v11.0M48.95,-33.46h33.0M65.45,-38.96v11.0M48.95,5.90h33.0M65.45,0.40v11.0M48.95,45.26h33.0M65.45,39.76v11.0M-40.45,-13.78h33.0M-23.95,-19.28v11.0M-40.45,25.58h33.0M-23.95,20.08v11.0M-40.45,64.94h33.0M-23.95,59.44v11.0M19.15,-13.78h33.0M35.65,-19.28v11.0M19.15,25.58h33.0M35.65,20.08v11.0M19.15,64.94h33.0M35.65,59.44v11.0M78.75,-13.78h33.0M95.25,-19.28v11.0M78.75,25.58h33.0M95.25,20.08v11.0M78.75,64.94h33.0M95.25,59.44v11.0" stroke="#000" stroke-width="2.6" fill="none"/></pattern><pattern id="o13" patternUnits="userSpaceOnUse" x="592.25" y="321.25" width="32.0" height="61.4"><path d="M-31.50,-59.90L-21.50,-47.90M-21.50,-59.90L-31.50,-47.90M-31.50,1.50L-21.50,13.50M-21.50,1.50L-31.50,13.50M-31.50,62.90L-21.50,74.90M-21.50,62.90L-31.50,74.90M0.50,-59.90L10.50,-47.90M10.50,-59.90L0.50,-47.90M0.50,1.50L10.50,13.50M10.50,1.50L0.50,13.50M0.50,62.90L10.50,74.90M10.50,62.90L0.50,74.90M32.50,-59.90L42.50,-47.90M42.50,-59.90L32.50,-47.90M32.50,1.50L42.50,13.50M42.50,1.50L32.50,13.50M32.50,62.90L42.50,74.90M42.50,62.90L32.50,74.90M-15.50,-29.20L-5.50,-17.20M-5.50,-29.20L-15.50,-17.20M-15.50,32.20L-5.50,44.20M-5.50,32.20L-15.50,44.20M-15.50,93.60L-5.50,105.60M-5.50,93.60L-15.50,105.60M16.50,-29.20L26.50,-17.20M26.50,-29.20L16.50,-17.20M16.50,32.20L26.50,44.20M26.50,32.20L16.50,44.20M16.50,93.60L26.50,105.60M26.50,93.60L16.50,105.60M48.50,-29.20L58.50,-17.20M58.50,-29.20L48.50,-17.20M48.50,32.20L58.50,44.20M58.50,32.20L48.50,44.20M48.50,93.60L58.50,105.60M58.50,93.60L48.50,105.60" stroke="#000" stroke-width="2.5" fill="none"/></pattern><pattern id="o17" patternUnits="userSpaceOnUse" x="1438.75" y="317.50" width="41.2" height="41.2"><path d="M-5,5 L5,-5 M-5,46.2 L46.2,-5 M36.2,46.2 L46.2,36.2" stroke="#000" stroke-width="3.4"/></pattern><pattern id="o18" patternUnits="userSpaceOnUse" x="1435.25" y="396.25" width="41.2" height="41.2"><path d="M-5,36.2 L5,46.2 M-5,-5 L46.2,46.2 M36.2,-5 L46.2,5" stroke="#000" stroke-width="3.4"/></pattern><pattern id="o23" patternUnits="userSpaceOnUse" x="1242.95" y="2421.86" width="43.4" height="43.4"><path d="M-5,5 L5,-5 M-5,48.4 L48.4,-5 M38.4,48.4 L48.4,38.4" stroke="#000" stroke-width="3.4"/></pattern><pattern id="o24" patternUnits="userSpaceOnUse" x="1455.88" y="2504.50" width="43.4" height="43.4"><path d="M-5,38.4 L5,48.4 M-5,-5 L48.4,48.4 M38.4,-5 L48.4,5" stroke="#000" stroke-width="3.4"/></pattern><pattern id="o26" patternUnits="userSpaceOnUse" x="1887.74" y="2193.48" width="62.5" height="41.2"><path d="M-74.10,-35.50h35.0M-56.60,-41.25v11.5M-74.10,5.70h35.0M-56.60,-0.05v11.5M-74.10,46.90h35.0M-56.60,41.15v11.5M-11.60,-35.50h35.0M5.90,-41.25v11.5M-11.60,5.70h35.0M5.90,-0.05v11.5M-11.60,46.90h35.0M5.90,41.15v11.5M50.90,-35.50h35.0M68.40,-41.25v11.5M50.90,5.70h35.0M68.40,-0.05v11.5M50.90,46.90h35.0M68.40,41.15v11.5M-42.85,-14.90h35.0M-25.35,-20.65v11.5M-42.85,26.30h35.0M-25.35,20.55v11.5M-42.85,67.50h35.0M-25.35,61.75v11.5M19.65,-14.90h35.0M37.15,-20.65v11.5M19.65,26.30h35.0M37.15,20.55v11.5M19.65,67.50h35.0M37.15,61.75v11.5M82.15,-14.90h35.0M99.65,-20.65v11.5M82.15,26.30h35.0M99.65,20.55v11.5M82.15,67.50h35.0M99.65,61.75v11.5" stroke="#000" stroke-width="2.6" fill="none"/></pattern><pattern id="o27" patternUnits="userSpaceOnUse" x="2103.67" y="2325.70" width="33.5" height="64.4"><path d="M-33.50,-63.90L-23.10,-51.30M-23.10,-63.90L-33.50,-51.30M-33.50,0.50L-23.10,13.10M-23.10,0.50L-33.50,13.10M-33.50,64.90L-23.10,77.50M-23.10,64.90L-33.50,77.50M0.00,-63.90L10.40,-51.30M10.40,-63.90L0.00,-51.30M0.00,0.50L10.40,13.10M10.40,0.50L0.00,13.10M0.00,64.90L10.40,77.50M10.40,64.90L0.00,77.50M33.50,-63.90L43.90,-51.30M43.90,-63.90L33.50,-51.30M33.50,0.50L43.90,13.10M43.90,0.50L33.50,13.10M33.50,64.90L43.90,77.50M43.90,64.90L33.50,77.50M-16.75,-31.70L-6.35,-19.10M-6.35,-31.70L-16.75,-19.10M-16.75,32.70L-6.35,45.30M-6.35,32.70L-16.75,45.30M-16.75,97.10L-6.35,109.70M-6.35,97.10L-16.75,109.70M16.75,-31.70L27.15,-19.10M27.15,-31.70L16.75,-19.10M16.75,32.70L27.15,45.30M27.15,32.70L16.75,45.30M16.75,97.10L27.15,109.70M27.15,97.10L16.75,109.70M50.25,-31.70L60.65,-19.10M60.65,-31.70L50.25,-19.10M50.25,32.70L60.65,45.30M60.65,32.70L50.25,45.30M50.25,97.10L60.65,109.70M60.65,97.10L50.25,109.70" stroke="#000" stroke-width="2.5" fill="none"/></pattern><pattern id="o31" patternUnits="userSpaceOnUse" x="362.75" y="1986.75" width="43.4" height="43.4"><path d="M-5,5 L5,-5 M-5,48.4 L48.4,-5 M38.4,48.4 L48.4,38.4" stroke="#000" stroke-width="3.4"/></pattern><pattern id="o32" patternUnits="userSpaceOnUse" x="359.75" y="2068.05" width="43.4" height="43.4"><path d="M-5,38.4 L5,48.4 M-5,-5 L48.4,48.4 M38.4,-5 L48.4,5" stroke="#000" stroke-width="3.4"/></pattern><pattern id="o35" patternUnits="userSpaceOnUse" x="1250.25" y="1907.25" width="62.5" height="41.2"><path d="M-74.10,-35.50h35.0M-56.60,-41.25v11.5M-74.10,5.70h35.0M-56.60,-0.05v11.5M-74.10,46.90h35.0M-56.60,41.15v11.5M-11.60,-35.50h35.0M5.90,-41.25v11.5M-11.60,5.70h35.0M5.90,-0.05v11.5M-11.60,46.90h35.0M5.90,41.15v11.5M50.90,-35.50h35.0M68.40,-41.25v11.5M50.90,5.70h35.0M68.40,-0.05v11.5M50.90,46.90h35.0M68.40,41.15v11.5M-42.85,-14.90h35.0M-25.35,-20.65v11.5M-42.85,26.30h35.0M-25.35,20.55v11.5M-42.85,67.50h35.0M-25.35,61.75v11.5M19.65,-14.90h35.0M37.15,-20.65v11.5M19.65,26.30h35.0M37.15,20.55v11.5M19.65,67.50h35.0M37.15,61.75v11.5M82.15,-14.90h35.0M99.65,-20.65v11.5M82.15,26.30h35.0M99.65,20.55v11.5M82.15,67.50h35.0M99.65,61.75v11.5" stroke="#000" stroke-width="2.6" fill="none"/></pattern><pattern id="o36" patternUnits="userSpaceOnUse" x="1250.25" y="1990.25" width="33.5" height="64.4"><path d="M-33.50,-63.90L-23.10,-51.30M-23.10,-63.90L-33.50,-51.30M-33.50,0.50L-23.10,13.10M-23.10,0.50L-33.50,13.10M-33.50,64.90L-23.10,77.50M-23.10,64.90L-33.50,77.50M0.00,-63.90L10.40,-51.30M10.40,-63.90L0.00,-51.30M0.00,0.50L10.40,13.10M10.40,0.50L0.00,13.10M0.00,64.90L10.40,77.50M10.40,64.90L0.00,77.50M33.50,-63.90L43.90,-51.30M43.90,-63.90L33.50,-51.30M33.50,0.50L43.90,13.10M43.90,0.50L33.50,13.10M33.50,64.90L43.90,77.50M43.90,64.90L33.50,77.50M-16.75,-31.70L-6.35,-19.10M-6.35,-31.70L-16.75,-19.10M-16.75,32.70L-6.35,45.30M-6.35,32.70L-16.75,45.30M-16.75,97.10L-6.35,109.70M-6.35,97.10L-16.75,109.70M16.75,-31.70L27.15,-19.10M27.15,-31.70L16.75,-19.10M16.75,32.70L27.15,45.30M27.15,32.70L16.75,45.30M16.75,97.10L27.15,109.70M27.15,97.10L16.75,109.70M50.25,-31.70L60.65,-19.10M60.65,-31.70L50.25,-19.10M50.25,32.70L60.65,45.30M60.65,32.70L50.25,45.30M50.25,97.10L60.65,109.70M60.65,97.10L50.25,109.70" stroke="#000" stroke-width="2.5" fill="none"/></pattern></defs>
</svg></body></html>
